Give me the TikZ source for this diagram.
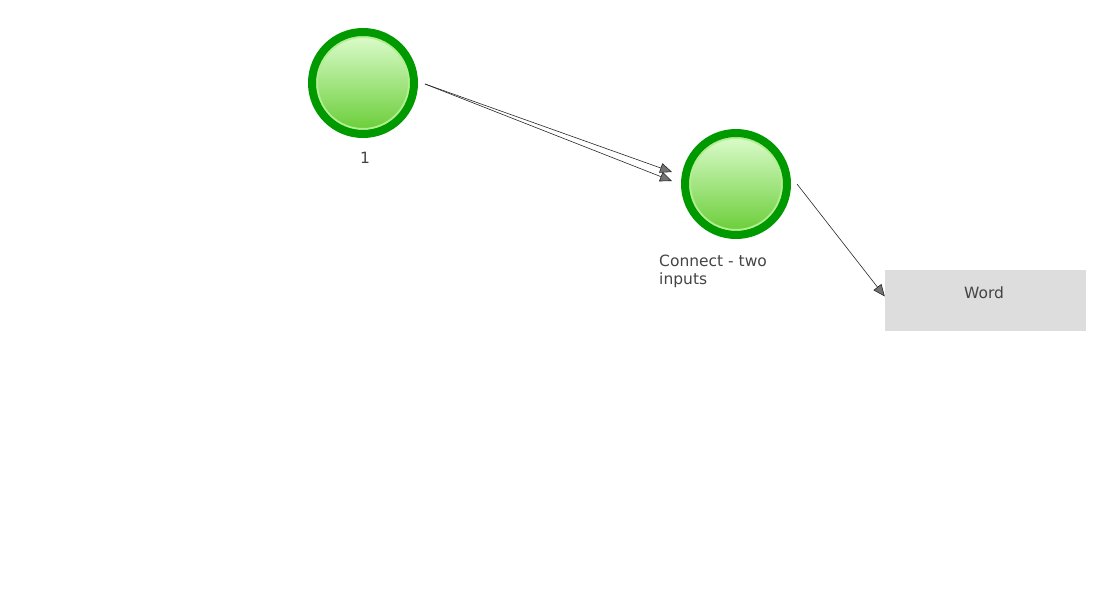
\documentclass[tikz,border=0pt]{standalone}
\usepackage{fontspec}
\setmainfont{DejaVu Sans}
\usetikzlibrary{arrows.meta}
\definecolor{ringgreen}{HTML}{009900}
\definecolor{topgreen}{HTML}{DFFDD0}
\definecolor{botgreen}{HTML}{66CC33}
\definecolor{innerring}{HTML}{B2EE92}
\definecolor{boxgray}{HTML}{DDDDDD}
\definecolor{txt}{HTML}{444444}
\tikzset{
  event/.style={circle, draw=ringgreen, line width=8pt, minimum size=102pt, inner sep=0pt,
    top color=topgreen, bottom color=botgreen,
    path picture={\draw[innerring, line width=2pt] (path picture bounding box.center) circle (46pt);}},
  wordbox/.style={rectangle, fill=boxgray, minimum width=201pt, minimum height=61pt, inner sep=0pt},
  lbl/.style={font=\fontsize{15.5}{18}\selectfont, text=txt, inner sep=0pt},
  conn/.style={draw=black!85, line width=0.6pt,
    -{Triangle[length=12pt, width=10pt, fill=black!55, color=black!85, line width=0.6pt]}}
}
\begin{document}
\begin{tikzpicture}[x=1pt, y=-1pt]
\useasboundingbox (0,0) rectangle (1100,600);
\node[event] (n1) at (363,83) {};
\node[event] (n2) at (736,184) {};
\node[wordbox] (w) at (985.5,300.5) {};
\node[lbl] (wl) at (984,293) {Word};
\node[lbl] (l1) at (365,158) {1};
\node[lbl, anchor=north west, align=left] (l2) at (659,255) {Connect - two\\inputs};
\draw[conn] ([xshift=7pt,yshift=-1pt]n1.east) -- ([xshift=-9pt,yshift=12pt]n2.west);
\draw[conn] ([xshift=7pt,yshift=-1pt]n1.east) -- ([xshift=-9pt,yshift=3pt]n2.west);
\draw[conn] ([xshift=6pt]n2.east) -- ([yshift=4pt]w.west);
\end{tikzpicture}
\end{document}
